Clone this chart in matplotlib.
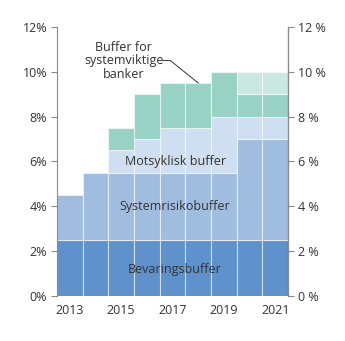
import matplotlib
matplotlib.use("Agg")
import matplotlib.pyplot as plt
import numpy as np

plt.rcParams["font.family"] = ["Open Sans", "DejaVu Sans"]

years = [2013, 2014, 2015, 2016, 2017, 2018, 2019, 2020, 2021]
bevaring = [2.5, 2.5, 2.5, 2.5, 2.5, 2.5, 2.5, 2.5, 2.5]
systemrisiko = [2.0, 3.0, 3.0, 3.0, 3.0, 3.0, 3.0, 4.5, 4.5]
motsyklisk = [0.0, 0.0, 1.0, 1.5, 2.0, 2.0, 2.5, 1.0, 1.0]
systemviktige = [0.0, 0.0, 1.0, 2.0, 2.0, 2.0, 2.0, 1.0, 1.0]
systemviktige_plan = [0.0, 0.0, 0.0, 0.0, 0.0, 0.0, 0.0, 1.0, 1.0]

yticks = [0, 2, 4, 6, 8, 10, 12]
xtick_years = [2013, 2015, 2017, 2019, 2021]

colors = ["#5f91cc", "#a0bde0", "#cfdef0", "#98d2c4", "#c8e8e0"]
series = [bevaring, systemrisiko, motsyklisk, systemviktige, systemviktige_plan]

text_color = "#333333"
axis_color = "#8a8a8a"

fig = plt.figure(figsize=(3.45, 3.41), dpi=100)
ax = fig.add_axes([0.165, 0.132, 0.67, 0.789])

x = np.array(years)
bottom = np.zeros(len(years))
for vals, col in zip(series, colors):
    v = np.array(vals)
    mask = v > 0
    ax.bar(x[mask], v[mask], width=1.0, bottom=bottom[mask], color=col,
           edgecolor=(1, 1, 1, 0.55), linewidth=0.8, zorder=2)
    bottom += v

ax.set_xlim(years[0] - 0.5, years[-1] + 0.5)
ax.set_ylim(0, 12)
ax.set_yticks(yticks)
ax.set_yticklabels([f"{t}%" for t in yticks])
ax.set_xticks(xtick_years)
ax.set_xticklabels([str(y) for y in xtick_years])

for s in ["top", "bottom"]:
    ax.spines[s].set_visible(False)
ax.spines["left"].set_color(axis_color)
ax.spines["left"].set_linewidth(0.8)
ax.tick_params(axis="y", colors=axis_color, length=4, width=0.8,
               labelcolor=text_color, labelsize=9, pad=3)
ax.tick_params(axis="x", length=0, labelcolor=text_color, labelsize=9, pad=6)

ax2 = ax.twinx()
ax2.set_ylim(0, 12)
ax2.set_yticks(yticks)
ax2.set_yticklabels([f"{t} %" for t in yticks])
for s in ["top", "bottom", "left"]:
    ax2.spines[s].set_visible(False)
ax2.spines["right"].set_color(axis_color)
ax2.spines["right"].set_linewidth(0.8)
ax2.tick_params(axis="y", colors=axis_color, length=4, width=0.8,
                labelcolor=text_color, labelsize=9, pad=3)

# Segment labels
ax.text(2017.1, 1.2, "Bevaringsbuffer", ha="center", va="center",
        fontsize=9, color=text_color, zorder=5)
ax.text(2017.1, 4.0, "Systemrisikobuffer", ha="center", va="center",
        fontsize=9, color=text_color, zorder=5)
ax.text(2017.1, 6.0, "Motsyklisk buffer", ha="center", va="center",
        fontsize=9, color=text_color, zorder=5)

# Callout for the systemically important bank buffer
ax.text(2015.1, 10.5, "Buffer for\nsystemviktige\nbanker", ha="center",
        va="center", fontsize=9, color=text_color, linespacing=1.05, zorder=5)
top_2018 = bevaring[5] + systemrisiko[5] + motsyklisk[5] + systemviktige[5]
ax.plot([2016.65, 2016.92, 2018.0], [10.5, 10.5, top_2018], color="#333333",
        linewidth=0.7, zorder=5, clip_on=False)

fig.savefig("out.png", dpi=100)
